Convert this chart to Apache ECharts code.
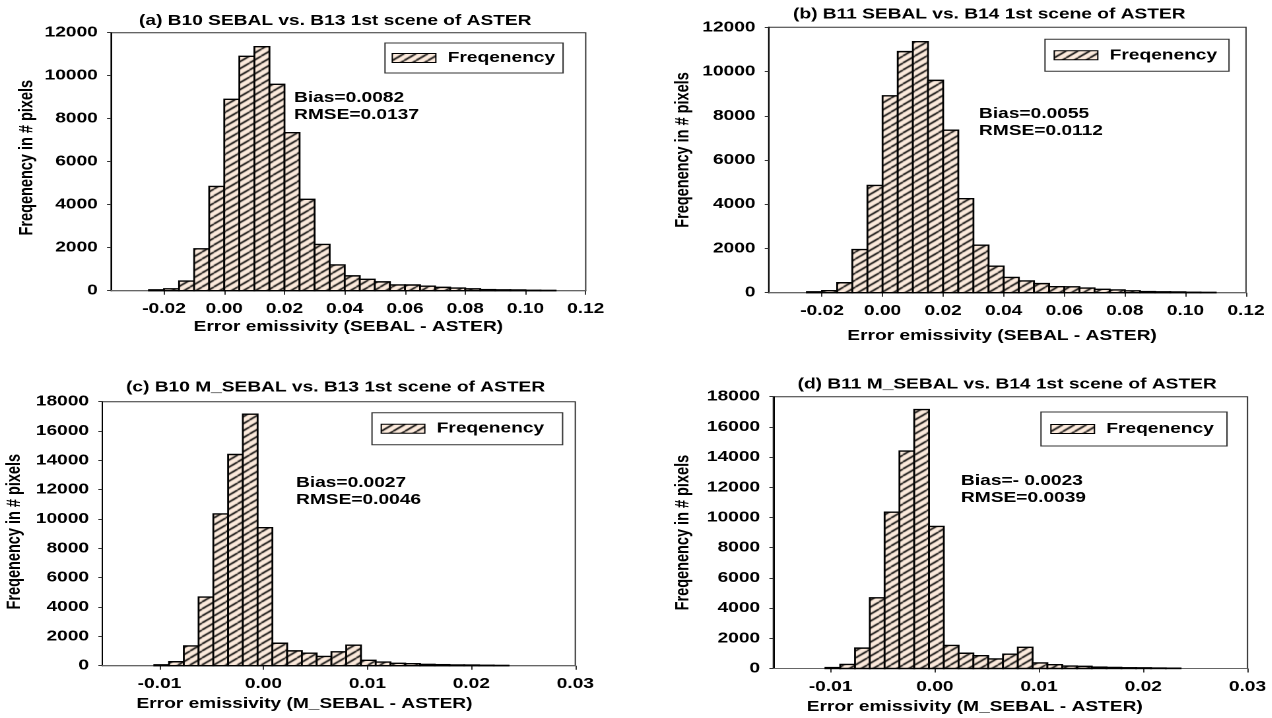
<!DOCTYPE html>
<html><head><meta charset="utf-8">
<script src="https://cdn.jsdelivr.net/npm/echarts@6/dist/echarts.min.js"></script>
<style>
html,body{margin:0;padding:0;background:#fff;overflow:hidden;width:1272px;height:718px}
#c{position:absolute;left:0;top:0;height:718px;transform-origin:0 0;}
</style>
</head><body><div id="c"></div>
<script>
// ---------------- data ----------------
const seriesName = 'Freqenency';
const titles = [
  '(a) B10 SEBAL vs. B13 1st scene of ASTER',
  '(b) B11 SEBAL vs. B14 1st scene of ASTER',
  '(c) B10 M_SEBAL vs. B13 1st scene of ASTER',
  '(d) B11 M_SEBAL vs. B14 1st scene of ASTER'
];
const xNames = [
  'Error emissivity (SEBAL - ASTER)',
  'Error emissivity (SEBAL - ASTER)',
  'Error emissivity (M_SEBAL - ASTER)',
  'Error emissivity (M_SEBAL - ASTER)'
];
const yName = 'Freqenency in # pixels';
const notes = [
  'Bias=0.0082\nRMSE=0.0137',
  'Bias=0.0055\nRMSE=0.0112',
  'Bias=0.0027\nRMSE=0.0046',
  'Bias=- 0.0023\nRMSE=0.0039'
];

// bin start values (left edges) and bin widths
const binStartAB = [-0.025, -0.020, -0.015, -0.010, -0.005, 0.000, 0.005, 0.010, 0.015, 0.020,
  0.025, 0.030, 0.035, 0.040, 0.045, 0.050, 0.055, 0.060, 0.065, 0.070,
  0.075, 0.080, 0.085, 0.090, 0.095, 0.100, 0.105];
const binWidthAB = 0.005;
const binStartCD = [-0.0105, -0.00908, -0.00766, -0.00624, -0.00482, -0.0034, -0.00198, -0.00056,
  0.00086, 0.00228, 0.0037, 0.00512, 0.00654, 0.00796, 0.00938, 0.0108,
  0.01222, 0.01364, 0.01506, 0.01648, 0.0179, 0.01932, 0.02074, 0.02216];
const binWidthCD = 0.00142;

// frequencies
const countsA = [40, 90, 450, 1950, 4850, 8900, 10900, 11350, 9600, 7350, 4250, 2150, 1200, 690,
  530, 410, 270, 265, 210, 155, 125, 85, 50, 40, 35, 20, 15];
const countsB = [40, 90, 450, 1950, 4850, 8900, 10900, 11350, 9600, 7350, 4250, 2150, 1200, 690,
  530, 410, 270, 265, 210, 155, 125, 85, 50, 40, 35, 20, 15];
const countsC = [60, 270, 1350, 4680, 10350, 14400, 17150, 9410, 1530, 1010, 850, 630, 950, 1400,
  370, 250, 160, 140, 90, 70, 50, 45, 30, 20];
const countsD = [60, 270, 1350, 4680, 10350, 14400, 17150, 9410, 1530, 1010, 850, 630, 950, 1400,
  370, 250, 160, 140, 90, 70, 50, 45, 30, 20];

// axes
const xRangeAB = [-0.0376, 0.12];
const xRangeCD = [-0.0155, 0.03];
const xTicksAB = [-0.02, 0.00, 0.02, 0.04, 0.06, 0.08, 0.10, 0.12];
const xTicksCD = [-0.01, 0.00, 0.01, 0.02, 0.03];
const yMaxAB = 12000, yMaxCD = 18000, yStep = 2000;

// ---------------- layout ----------------
const S = 1.32;               // horizontal stretch of the whole figure
const X = v => v / S;         // target px -> unstretched px
const FONT = '"Liberation Sans", Arial, sans-serif';
const FS = 14.5;

const dom = document.getElementById('c');
dom.style.width = (1272 / S) + 'px';
dom.style.transform = 'scaleX(' + S + ')';

// hatch pattern
const TW = 9, TH = 7;
const tile = document.createElement('canvas');
tile.width = TW; tile.height = TH;
(function () {
  const c = tile.getContext('2d');
  c.fillStyle = '#fdebdd';
  c.fillRect(0, 0, TW, TH);
  c.strokeStyle = '#000';
  c.lineWidth = 1.4;
  for (let k = -1; k <= 1; k++) {
    c.beginPath();
    c.moveTo(0, TH + k * TH);
    c.lineTo(TW, k * TH);
    c.stroke();
  }
})();
const hatch = { image: tile, repeat: 'repeat' };

const grids = [
  { left: X(111), top: 32.7, width: X(585.7 - 111), height: 258 },
  { left: X(768.7), top: 27.3, width: X(1246 - 768.7), height: 265.4 },
  { left: X(102.3), top: 401.7, width: X(575.3 - 102.3), height: 264 },
  { left: X(773.3), top: 396.7, width: X(1247.5 - 773.3), height: 271.8 }
].map(g => Object.assign(g, { show: true, borderColor: '#333', borderWidth: 1, backgroundColor: 'transparent' }));

const txt = { fontFamily: FONT, fontSize: FS, fontWeight: 'bold', color: '#000' };

function xAxis(i, range, ticks, nameGap, pad) {
  return {
    type: 'value', gridIndex: i, min: range[0], max: range[1],
    axisLine: { show: true, onZero: false, lineStyle: { color: '#666', width: 1 } },
    axisTick: { show: true, length: 4, customValues: ticks, lineStyle: { color: '#333' } },
    axisLabel: Object.assign({ customValues: ticks, formatter: v => v.toFixed(2), margin: 11 }, txt),
    splitLine: { show: false },
    name: xNames[i], nameLocation: 'middle', nameGap: nameGap,
    nameTextStyle: Object.assign({ padding: pad, lineHeight: 17 }, txt)
  };
}
function yAxis(i, max, nameGap, pad) {
  return {
    type: 'value', gridIndex: i, min: 0, max: max, interval: yStep,
    axisLine: { show: true, onZero: false, lineStyle: { color: '#000', width: 1 } },
    axisTick: { show: true, length: 3, lineStyle: { color: '#333' } },
    axisLabel: Object.assign({ formatter: v => String(v), margin: 10 }, txt),
    splitLine: { show: false },
    name: yName, nameLocation: 'middle', nameGap: nameGap,
    nameTextStyle: Object.assign({ padding: pad, lineHeight: 17 }, txt)
  };
}
function hist(i, starts, width, counts) {
  return {
    type: 'custom', name: seriesName, xAxisIndex: i, yAxisIndex: i,
    data: starts.map((s, k) => [s, s + width, counts[k]]),
    encode: { x: [0, 1], y: 2 },
    itemStyle: { color: hatch, borderColor: '#000', borderWidth: 1.4 },
    animation: false, silent: true,
    renderItem: (params, api) => {
      const p0 = api.coord([api.value(0), 0]);
      const p1 = api.coord([api.value(1), api.value(2)]);
      return {
        type: 'rect',
        shape: { x: p0[0], y: p1[1], width: p1[0] - p0[0], height: p0[1] - p1[1] },
        style: { fill: hatch, stroke: '#000', lineWidth: 1.4 }
      };
    }
  };
}
function legend(left, top, pad) {
  return {
    left: X(left), top: top, orient: 'horizontal', padding: pad,
    borderColor: '#333', borderWidth: 1, backgroundColor: '#fff',
    itemWidth: 33, itemHeight: 9, selectedMode: false,
    data: [{ name: seriesName, icon: 'rect', itemStyle: { color: hatch, borderColor: '#000', borderWidth: 1 } }],
    textStyle: Object.assign({ padding: [0, 0, 0, 4], lineHeight: 18 }, txt)
  };
}
const titleSpec = [[139, 21], [793, 14.5], [126, 387.3], [797.6, 384.3]];
const noteSpec = [[294, 106.5], [979, 122.5], [296, 491.5], [961, 489.5]];

const option = {
  animation: false,
  backgroundColor: '#fff',
  title: titles.map((t, i) => ({
    text: t, left: X(titleSpec[i][0]), top: titleSpec[i][1] - 8.5, padding: 0,
    textStyle: Object.assign({ lineHeight: 17 }, txt)
  })),
  legend: [
    legend(385, 43, [6, 6, 6, 5]),
    legend(1045, 39.3, [7, 9, 7, 6.5]),
    legend(372, 412.7, [7, 14, 7, 6.5]),
    legend(1041, 412, [8, 10, 8, 7])
  ],
  grid: grids,
  xAxis: [
    xAxis(0, xRangeAB, xTicksAB, 28, [0, 0, 0, 0]),
    xAxis(1, xRangeAB, xTicksAB, 35, [0, 8, 0, 0]),
    xAxis(2, xRangeCD, xTicksCD, 30, [0, 52, 0, 0]),
    xAxis(3, xRangeCD, xTicksCD, 30, [0, 54, 0, 0])
  ],
  yAxis: [
    yAxis(0, yMaxAB, 55, [0, 0, 0, 8]),
    yAxis(1, yMaxAB, 56.5, [0, 0, 0, 20]),
    yAxis(2, yMaxCD, 58, [0, 0, 0, 4]),
    yAxis(3, yMaxCD, 60, [0, 0, 0, 0])
  ],
  graphic: notes.map((n, i) => ({
    type: 'text', x: X(noteSpec[i][0]), y: noteSpec[i][1], silent: true,
    style: { text: n, font: 'bold ' + FS + 'px ' + FONT, fill: '#000', lineHeight: 17,
      textAlign: 'left', textVerticalAlign: 'middle' }
  })),
  series: [
    hist(0, binStartAB, binWidthAB, countsA),
    hist(1, binStartAB, binWidthAB, countsB),
    hist(2, binStartCD, binWidthCD, countsC),
    hist(3, binStartCD, binWidthCD, countsD)
  ]
};
const chart = echarts.init(dom, null, { renderer: 'canvas', devicePixelRatio: 2 });
chart.setOption(option);
</script></body></html>
